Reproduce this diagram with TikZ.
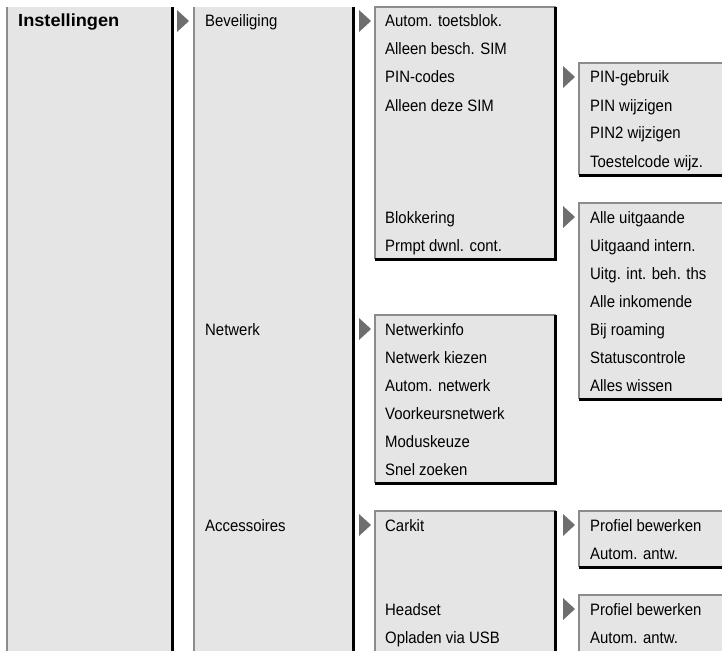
\documentclass[tikz,border=0pt]{standalone}
\usepackage{fontspec}
\setmainfont{Liberation Sans}
\newfontfamily\itemfont{Liberation Sans}[FakeStretch=0.905]
\newfontfamily\headfont{Liberation Sans}[FakeStretch=1.04]
\definecolor{boxfill}{HTML}{E5E5E5}
\definecolor{edgegray}{HTML}{8C8C8C}
\definecolor{trigray}{HTML}{6E6E6E}
% box with gray left/top and black right/bottom edges
\newcommand{\menubox}[4]{%
  \fill[boxfill] (#1,#2) rectangle (#3,#4);
  \draw[grayedge] (#1,#4) -- (#1,#2) -- (#3,#2);
  \draw[blackedge] (#3,#2) -- (#3,#4) -- (#1,#4);}
% box open at the bottom
\newcommand{\openbox}[4]{%
  \fill[boxfill] (#1,#2) rectangle (#3,#4);
  \draw[grayedge] (#1,#4) -- (#1,#2) -- (#3,#2);
  \draw[blackedge] (#3,#2) -- (#3,#4);}
% pointer triangle: x left, baseline of the row
\newcommand{\pointer}[2]{%
  \fill[trigray] (#1,#2-17) -- (#1+12,#2-6) -- (#1,#2+5) -- cycle;}
\begin{document}
\begin{tikzpicture}[x=1pt,y=-1pt,
  grayedge/.style={draw=edgegray,line width=2pt},
  blackedge/.style={draw=black,line width=3pt},
  item/.style={anchor=base west,inner sep=0pt,font=\itemfont\fontsize{16.5}{18}\selectfont},
  head/.style={anchor=base west,inner sep=0pt,font=\headfont\bfseries\fontsize{17.5}{20}\selectfont}]
\useasboundingbox (0,0) rectangle (722,650);
\begin{scope}
\clip (0,0) rectangle (722,650);
% column 1 and 2 (open at top and bottom)
\fill[boxfill] (7,7) rectangle (172,660);
\draw[grayedge] (7,7) -- (7,660);
\draw[blackedge] (172,7) -- (172,660);
\fill[boxfill] (193.5,7) rectangle (353,660);
\draw[grayedge] (193.5,7) -- (193.5,660);
\draw[blackedge] (353,7) -- (353,660);
% column 3 boxes
\menubox{374.5}{7}{555.5}{259}
\menubox{374.5}{315}{555.5}{483}
\openbox{374.5}{511}{555.5}{660}
% column 4 boxes (run off the right edge)
\menubox{579}{63}{740}{175}
\menubox{579}{203}{740}{399}
\menubox{579}{511}{740}{567}
\openbox{579}{595}{740}{660}
\end{scope}
% pointers
\pointer{177}{27}
\pointer{359}{27}
\pointer{359}{335}
\pointer{359}{531}
\pointer{563}{83}
\pointer{563}{223}
\pointer{563}{531}
\pointer{563}{615}
% column 1
\node[head] (c1) at (18,27) {Instellingen};
% column 2
\node[item] (b1) at (205,27) {Beveiliging};
\node[item] (b2) at (205,335) {Netwerk};
\node[item] (b3) at (205,531) {Accessoires};
% column 3
\node[item] (s1) at (385,27) {Autom. toetsblok.};
\node[item] (s2) at (385,55) {Alleen besch. SIM};
\node[item] (s3) at (385,83) {PIN-codes};
\node[item] (s4) at (385,111) {Alleen deze SIM};
\node[item] (s5) at (385,223) {Blokkering};
\node[item] (s6) at (385,251) {Prmpt dwnl. cont.};
\node[item] (n1) at (385,335) {Netwerkinfo};
\node[item] (n2) at (385,363) {Netwerk kiezen};
\node[item] (n3) at (385,391) {Autom. netwerk};
\node[item] (n4) at (385,419) {Voorkeursnetwerk};
\node[item] (n5) at (385,447) {Moduskeuze};
\node[item] (n6) at (385,475) {Snel zoeken};
\node[item] (a1) at (385,531) {Carkit};
\node[item] (a2) at (385,615) {Headset};
\node[item] (a3) at (385,643) {Opladen via USB};
% column 4
\node[item] (p1) at (590,83) {PIN-gebruik};
\node[item] (p2) at (590,111) {PIN wijzigen};
\node[item] (p3) at (590,139) {PIN2 wijzigen};
\node[item] (p4) at (590,167) {Toestelcode wijz.};
\node[item] (k1) at (590,223) {Alle uitgaande};
\node[item] (k2) at (590,251) {Uitgaand intern.};
\node[item] (k3) at (590,279) {Uitg. int. beh. ths};
\node[item] (k4) at (590,307) {Alle inkomende};
\node[item] (k5) at (590,335) {Bij roaming};
\node[item] (k6) at (590,363) {Statuscontrole};
\node[item] (k7) at (590,391) {Alles wissen};
\node[item] (ck1) at (590,531) {Profiel bewerken};
\node[item] (ck2) at (590,559) {Autom. antw.};
\node[item] (h1) at (590,615) {Profiel bewerken};
\node[item] (h2) at (590,643) {Autom. antw.};
\end{tikzpicture}
\end{document}
